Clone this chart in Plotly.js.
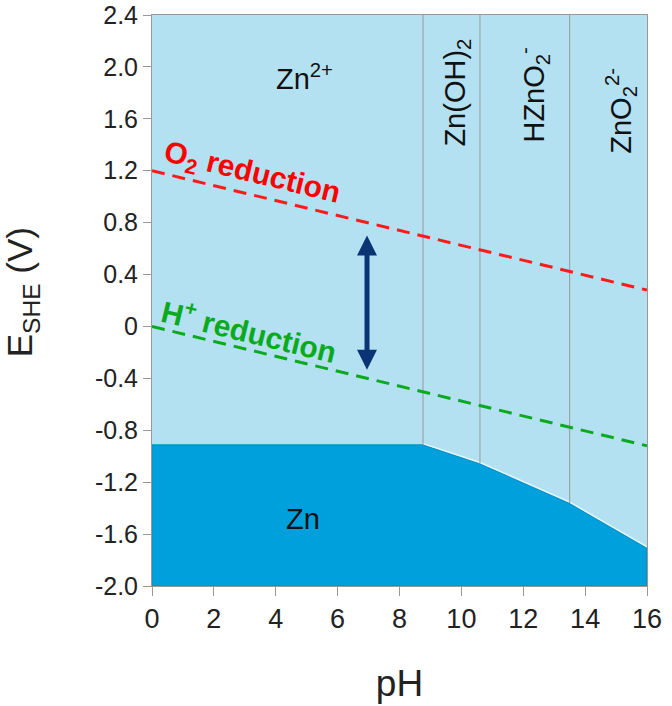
<!DOCTYPE html>
<html><head><meta charset="utf-8">
<script src="https://cdn.plot.ly/plotly-3.0.1.min.js"></script>
<style>html,body{margin:0;padding:0;background:#fff}#chart{width:672px;height:706px}</style>
</head><body><div id="chart"></div>
<script>
// Zn immunity region boundary (pH, E)
const znBoundaryPH = [0, 8.76, 10.6, 13.5, 16];
const znBoundaryE  = [-0.913, -0.913, -1.058, -1.364, -1.709];
const eMin = -2.0, eMax = 2.4;
// vertical species boundaries
const speciesPH = [8.76, 10.6, 13.5];
const speciesBottomE = [-0.913, -1.058, -1.364];
// water lines
const o2PH = [0, 16], o2E = [1.2, 0.28];
const hPH = [0, 16], hE = [0.0, -0.92];
// window arrow
const arrowPH = 6.95, arrowTopE = 0.70, arrowBottomE = -0.345;
// labels
const speciesLabels = ['Zn<sup>2+</sup>', 'Zn'];
const speciesLabelPH = [4.92, 4.88];
const speciesLabelE = [1.92, -1.487];
const vertLabels = ['Zn(OH)<sub>2</sub>', 'HZnO<sub>2</sub><sup>-</sup>', 'ZnO<sub>2</sub><sup>2-</sup>'];
const vertLabelPH = [9.85, 12.35, 15.15];
const vertLabelE = [1.8, 1.78, 1.66];
const yTickVals = [2.4, 2.0, 1.6, 1.2, 0.8, 0.4, 0, -0.4, -0.8, -1.2, -1.6, -2.0];
const yTickText = ['2.4','2.0','1.6','1.2','0.8','0.4','0','-0.4','-0.8','-1.2','-1.6','-2.0'];
const xTickVals = [0,2,4,6,8,10,12,14,16];
const yTitle = 'E<sub>SHE</sub> (V)';

const FONT = '"Liberation Sans", Arial, sans-serif';
const traces = [];
// dark Zn region polygon
traces.push({
  x: [0].concat(znBoundaryPH, [16, 0]),
  y: [eMin].concat(znBoundaryE, [eMin, eMin]),
  mode: 'lines', fill: 'toself', fillcolor: '#00a0dc',
  line: {color: '#0093cc', width: 1.5}, hoverinfo: 'skip', showlegend: false
});
// white edge along slope
traces.push({
  x: znBoundaryPH.slice(1), y: znBoundaryE.slice(1).map(v => v + 0.01),
  mode: 'lines', line: {color: '#e8f6fc', width: 1.5}, hoverinfo: 'skip', showlegend: false
});
// vertical boundaries
speciesPH.forEach((p, i) => {
  traces.push({x: [p, p], y: [speciesBottomE[i], eMax], mode: 'lines',
    line: {color: '#999999', width: 1}, hoverinfo: 'skip', showlegend: false});
});
traces.push({x: o2PH, y: o2E, mode: 'lines', line: {color: '#ff1a1a', width: 3, dash: '13px,8px'}, showlegend: false});
traces.push({x: hPH, y: hE, mode: 'lines', line: {color: '#0aaa1e', width: 3, dash: '13px,8px'}, showlegend: false});

const ann = [];
speciesLabels.forEach((t, i) => ann.push({x: speciesLabelPH[i], y: speciesLabelE[i], xref: 'x', yref: 'y', text: t, showarrow: false,
  font: {family: FONT, size: 29, color: '#111'}}));
vertLabels.forEach((t, i) => ann.push({x: vertLabelPH[i], y: vertLabelE[i], xref: 'x', yref: 'y', text: t, showarrow: false, textangle: -90,
  font: {family: FONT, size: 29, color: '#111'}}));
ann.push({x: 3.23, y: 1.176, xref: 'x', yref: 'y', text: '<b>O<sub>2</sub> reduction</b>', showarrow: false, textangle: 13.6,
  font: {family: FONT, size: 30, color: '#ff0000'}});
ann.push({x: 3.14, y: -0.025, xref: 'x', yref: 'y', text: '<b>H<sup>+</sup> reduction</b>', showarrow: false, textangle: 13.6,
  font: {family: FONT, size: 30, color: '#0aaa1e'}});
ann.push({x: arrowPH, y: arrowTopE, ax: arrowPH, ay: arrowBottomE, xref: 'x', yref: 'y', axref: 'x', ayref: 'y',
  text: '', showarrow: true, arrowhead: 2, startarrowhead: 2, arrowside: 'end+start', arrowsize: 0.8, startarrowsize: 0.8,
  arrowwidth: 5, arrowcolor: '#0b3474'});
// y-axis title
ann.push({x: -0.262, y: 0.515, xref: 'paper', yref: 'paper', text: yTitle, showarrow: false, textangle: -90,
  xanchor: 'center', yanchor: 'middle', font: {family: FONT, size: 35, color: '#222'}});

const layout = {
  width: 672, height: 706,
  margin: {l: 152, r: 25, t: 15, b: 120},
  paper_bgcolor: '#ffffff', plot_bgcolor: '#b4e1f1',
  showlegend: false,
  font: {family: FONT, color: '#222'},
  xaxis: {range: [0, 16], tickvals: xTickVals, ticks: 'outside', ticklen: 9, tickcolor: '#999',
    showline: true, linecolor: '#999', mirror: true, showgrid: false, zeroline: false,
    tickfont: {size: 27, color: '#222'}, ticklabeloverflow: 'allow',
    title: {text: 'pH', font: {size: 37, color: '#222'}, standoff: 36}},
  yaxis: {range: [eMin, eMax], tickvals: yTickVals, ticktext: yTickText, ticks: 'outside', ticklen: 8, tickcolor: '#999',
    showline: true, linecolor: '#999', mirror: true, showgrid: false, zeroline: false,
    tickfont: {size: 25, color: '#222'}, ticklabeloverflow: 'allow'},
  annotations: ann
};
Plotly.newPlot('chart', traces, layout, {staticPlot: true});
</script></body></html>
